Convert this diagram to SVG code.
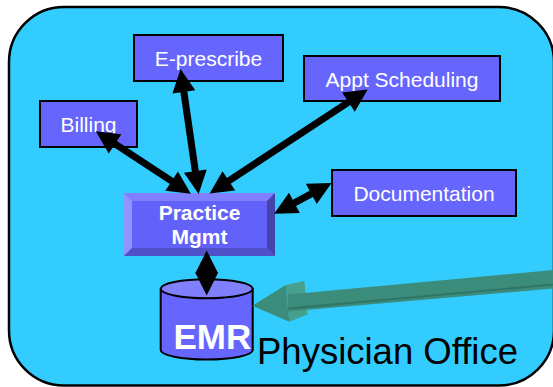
<svg xmlns="http://www.w3.org/2000/svg" width="553" height="387" viewBox="0 0 553 387">
<style>
.box{fill:#6666FF;stroke:#000;stroke-width:2}
.lbl{font-family:"Liberation Sans",Arial,sans-serif;font-size:21px;fill:#fff;text-anchor:middle}
.pm{font-family:"Liberation Sans",Arial,sans-serif;font-size:21px;font-weight:bold;fill:#fff;text-anchor:middle}
.conn{stroke:#000;stroke-width:7;fill:none;marker-start:url(#ah);marker-end:url(#ah)}
</style>
<defs>
<marker id="ah" markerUnits="userSpaceOnUse" markerWidth="24" markerHeight="24" viewBox="-2 -12 24 24" refX="0" refY="0" orient="auto-start-reverse" overflow="visible">
<path d="M-1,-11.5 L22,0 L-1,11.5 Z" fill="#000"/>
</marker>
</defs>
<rect x="9" y="7" width="545" height="378.5" rx="55" ry="55" fill="#33CCFF" stroke="#000" stroke-width="2.5"/>
<g id="billing"><rect class="box" x="40" y="101" width="97" height="46"/><text class="lbl" x="88.5" y="131.5">Billing</text></g>
<g id="eprescribe"><rect class="box" x="134" y="35" width="149" height="46"/><text class="lbl" x="208.5" y="65.5">E-prescribe</text></g>
<g id="appt"><rect class="box" x="304" y="56" width="196" height="45"/><text class="lbl" x="402" y="86.5">Appt Scheduling</text></g>
<g id="documentation"><rect class="box" x="332" y="170" width="184" height="46"/><text class="lbl" x="424" y="201">Documentation</text></g>
<g id="practice">
<rect x="124" y="193" width="151" height="63" fill="#6262FA"/>
<polygon points="124,193 275,193 267,201 132,201" fill="#8080FF"/>
<polygon points="124,193 132,201 132,248 124,256" fill="#9494FF"/>
<polygon points="275,193 275,256 267,248 267,201" fill="#4444AA"/>
<polygon points="124,256 132,248 267,248 275,256" fill="#5050C8"/>
<text class="pm" x="199.5" y="220">Practice</text>
<text class="pm" x="199.5" y="243.5">Mgmt</text>
</g>
<g id="emr">
<path d="M160.7,288.7 L160.7,350 A46,9.5 0 0 0 252.7,350 L252.7,288.7 Z" fill="#6666FF" stroke="#000" stroke-width="2"/>
<ellipse cx="206.7" cy="288.7" rx="46" ry="9.5" fill="#8080FF" stroke="#000" stroke-width="2"/>
<text x="173.5" y="349" font-family="Liberation Sans,Arial,sans-serif" font-size="35" font-weight="bold" fill="#fff">EMR</text>
</g>
<g id="office-label"><text x="257" y="364" font-family="Liberation Sans,Arial,sans-serif" font-size="36.5" fill="#000">Physician Office</text></g>
<g id="connectors">
<line class="conn" x1="114.2" y1="143.3" x2="172.5" y2="181.7"/>
<line class="conn" x1="183.7" y1="90.8" x2="195.5" y2="172.2"/>
<line class="conn" x1="349.3" y1="101.6" x2="228" y2="181.4"/>
<line class="conn" x1="312.2" y1="193.3" x2="293.5" y2="203.3"/>
<line class="conn" x1="206.7" y1="273.5" x2="206.7" y2="272.5"/>
<g id="external-arrow">
<polygon points="285.7,285 304.3,281 307.7,314.3 289.3,321.7" fill="#46A08D"/>
<polygon points="252.3,305.7 285.7,285 289.3,321.7" fill="#3C8C7B"/>
<polygon points="288,294.5 553,270 553,288.5 288,311.5" fill="#3C8C7B"/>
<polygon points="288,307.5 553,283.5 553,285.5 288,309.8" fill="#2F7666"/>
</g>
</g>
</svg>
